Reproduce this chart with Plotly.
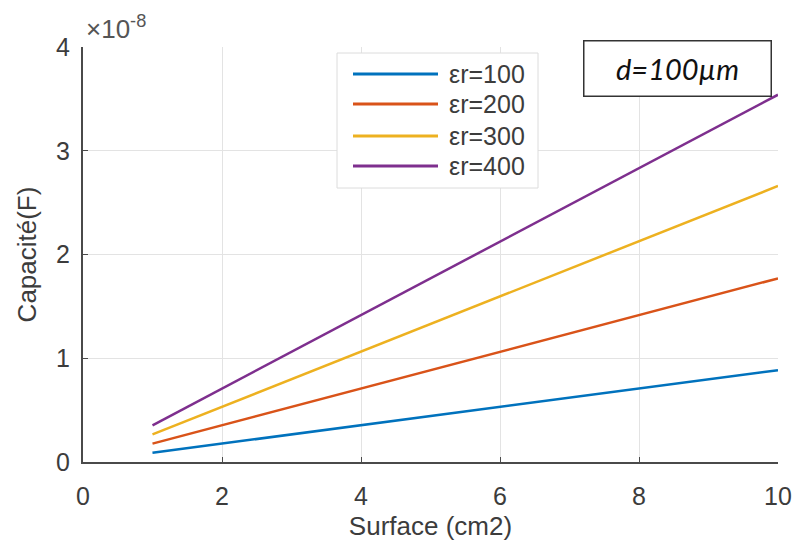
import plotly.graph_objects as go

# Surface values (cm2) at the two ends of each line
surface_cm2 = [1, 10]

# Capacitance (F) for each relative permittivity, d = 100 µm
series_names = ["εr=100", "εr=200", "εr=300", "εr=400"]
cap_er100 = [0.089e-8, 0.885e-8]
cap_er200 = [0.177e-8, 1.77e-8]
cap_er300 = [0.266e-8, 2.66e-8]
cap_er400 = [0.354e-8, 3.54e-8]
series_values = [cap_er100, cap_er200, cap_er300, cap_er400]

colors = ["#0072BD", "#D95319", "#EDB120", "#7E2F8E"]

y_tick_vals = [0, 1e-8, 2e-8, 3e-8, 4e-8]
y_tick_text = ["0", "1", "2", "3", "4"]
x_tick_vals = [0, 2, 4, 6, 8, 10]

FONT = "Liberation Sans, Arial, sans-serif"
TXT = "#3c3c3c"
AXIS = "#4a4a4a"
GRID = "#e3e3e3"
FS = 25

fig = go.Figure()
for name, vals, col in zip(series_names, series_values, colors):
    fig.add_trace(go.Scatter(
        x=surface_cm2, y=vals, mode="lines", name=name,
        line=dict(color=col, width=2.5), showlegend=False,
    ))

W, H = 792, 542
ml, mr, mt, mb = 83, 14, 47, 80
pw, ph = W - ml - mr, H - mt - mb


def px_x(px):
    return (px - ml) / pw


def px_y(py):
    return (H - mb - py) / ph


shapes = []
annotations = []

# Legend box drawn by hand so the sample lines match the long MATLAB style
shapes.append(dict(type="rect", xref="paper", yref="paper",
                   x0=px_x(337), x1=px_x(538), y0=px_y(188), y1=px_y(53),
                   line=dict(color="#dcdcdc", width=1), fillcolor="white", layer="above"))
legend_rows = [74, 104, 136, 166]
for name, col, ry in zip(series_names, colors, legend_rows):
    shapes.append(dict(type="line", xref="paper", yref="paper",
                       x0=px_x(353), x1=px_x(438), y0=px_y(ry), y1=px_y(ry),
                       line=dict(color=col, width=2.8), layer="above"))
    annotations.append(dict(xref="paper", yref="paper", x=px_x(447), y=px_y(ry),
                            xanchor="left", yanchor="middle", text=name, showarrow=False,
                            font=dict(family=FONT, size=FS, color=TXT)))

# Text box with the electrode spacing
annotations.append(dict(xref="paper", yref="paper", x=px_x(677), y=px_y(69),
                        xanchor="center", yanchor="middle", showarrow=False,
                        text="<i>d=100µm</i>", width=184, height=52,
                        bordercolor="#333333", borderwidth=1.5, borderpad=1,
                        bgcolor="white",
                        font=dict(family="Lato, Carlito, sans-serif", size=29, color="#111111")))

# Exponent label above the y axis
annotations.append(dict(xref="paper", yref="paper", x=px_x(84), y=px_y(28),
                        xanchor="left", yanchor="middle", showarrow=False,
                        text="×10<sup>-8</sup>",
                        font=dict(family=FONT, size=26, color="#555555")))

fig.update_layout(
    width=W, height=H,
    margin=dict(l=ml, r=mr, t=mt, b=mb, autoexpand=False),
    paper_bgcolor="white", plot_bgcolor="white",
    font=dict(family=FONT, size=FS, color=TXT),
    shapes=shapes, annotations=annotations,
    showlegend=False,
)
fig.update_xaxes(
    range=[0, 10], tickvals=x_tick_vals, ticks="inside", ticklen=5,
    tickcolor=AXIS, showline=True, linecolor=AXIS, linewidth=2,
    showgrid=True, gridcolor=GRID, gridwidth=1, zeroline=False,
    automargin=False,
    ticklabelstandoff=11, tickfont=dict(size=FS, color=TXT),
    title=dict(text="Surface (cm2)", font=dict(size=26, color=TXT), standoff=8),
)
fig.update_yaxes(
    range=[0, 4e-8], tickvals=y_tick_vals, ticktext=y_tick_text, ticks="inside",
    ticklen=5, tickcolor=AXIS, showline=True, linecolor=AXIS, linewidth=2,
    showgrid=True, gridcolor=GRID, gridwidth=1, zeroline=False,
    automargin=False,
    ticklabelstandoff=6, tickfont=dict(size=FS, color=TXT),
    title=dict(text="Capacité(F)", font=dict(size=26, color=TXT), standoff=12),
)

fig.write_html("out.html")
